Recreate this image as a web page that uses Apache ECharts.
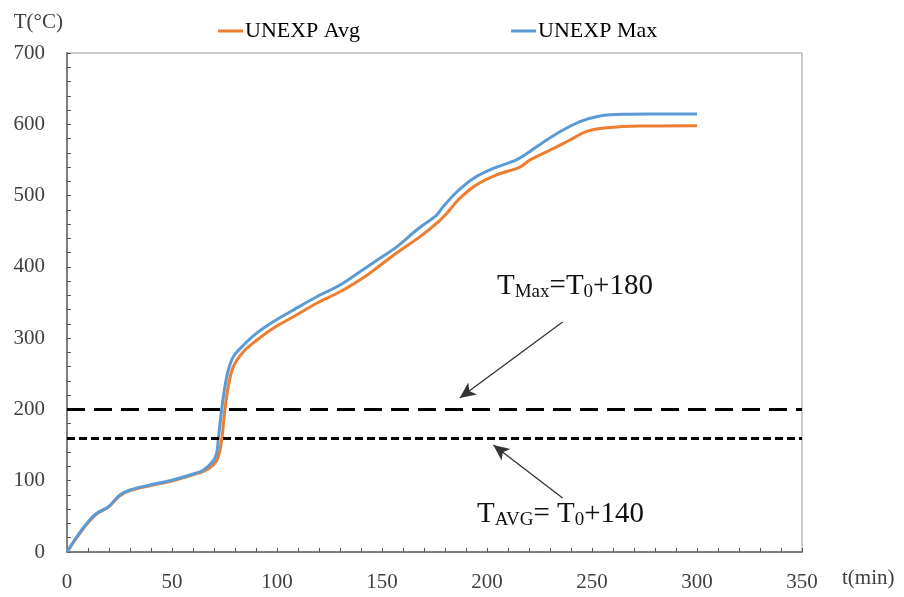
<!DOCTYPE html>
<html>
<head>
<meta charset="utf-8">
<title>UNEXP temperature</title>
<script src="https://cdn.jsdelivr.net/npm/echarts@6/dist/echarts.min.js"></script>
<style>
  html, body { margin: 0; padding: 0; background: #fff; }
  #chart { width: 904px; height: 597px; }
</style>
</head>
<body>
<div id="chart"></div>
<script>
// Unexposed-face temperature histories, [time (min), temperature (°C)]
const avgName = 'UNEXP Avg';
const maxName = 'UNEXP Max';

const avgData = [
  [0, 0], [4.6, 20], [9.4, 39], [14, 53], [19.7, 63], [25.2, 79], [30, 86],
  [39.5, 93], [49, 99], [58.6, 107], [65, 113], [69.7, 122], [72, 133],
  [73.7, 158], [75.2, 200], [76.8, 232], [79.2, 260], [84, 281], [90.3, 297],
  [98.2, 314], [107.8, 330], [118.9, 349], [130, 365], [142.7, 388], [149, 402],
  [158.6, 423], [168, 442], [176.8, 463], [180.8, 475], [187, 496], [195, 515],
  [204.6, 529], [215.7, 540], [220.5, 550], [231.6, 566], [239.5, 578],
  [247.5, 590], [257, 595], [273, 597.5], [300, 598]
];

const maxData = [
  [0, 0], [4.6, 21], [9.4, 40], [14, 54], [19.7, 63.5], [25.2, 80], [30, 87],
  [39.5, 94], [49, 100], [58.6, 108], [65, 115], [69.7, 128], [71.3, 139],
  [72, 157], [73.7, 201], [75.2, 232], [76.8, 255], [79.2, 274], [84, 290],
  [90.3, 307], [98.2, 323], [107.8, 339.5], [118.9, 358], [130, 374.5],
  [139.5, 393], [149, 412], [157, 428], [166.5, 451.7], [176, 472.7],
  [179, 484], [185.6, 505], [193.5, 524], [203, 538], [214, 550], [219, 559],
  [228.4, 578], [234.8, 589.6], [244.3, 603.6], [253.8, 611.6], [265, 614],
  [281, 614.4], [300, 614.5]
];

// Temperature criteria (°C)
const limitMax = 200;   // T0 + 180
const limitAvg = 160;   // T0 + 140

// Annotation arrows, [time, temperature] from tail to head
const arrowMax = [[236, 322.6], [187, 216]];
const arrowAvg = [[236, 75.7], [203, 150]];

// Axis ranges
const xMin = 0, xMax = 350, xStep = 50;
const yMin = 0, yMax = 700, yStep = 100;

const serif = '"Liberation Serif", "Times New Roman", serif';
const labelColor = '#404040';

const chart = echarts.init(document.getElementById('chart'), null, { renderer: 'canvas' });

chart.setOption({
  animation: false,
  backgroundColor: '#fff',
  grid: {
    left: 67, right: 102, top: 53, bottom: 45,
    show: true, borderColor: '#999', borderWidth: 1, containLabel: false
  },
  legend: {
    left: 213, top: 15,
    icon: 'rect', itemWidth: 25, itemHeight: 3, itemGap: 151,
    textStyle: { fontFamily: serif, fontSize: 22, color: '#000', padding: [0, 0, 0, -3] },
    data: [avgName, maxName]
  },
  xAxis: {
    type: 'value', min: xMin, max: xMax, interval: xStep,
    name: 't(min)', nameLocation: 'end', nameGap: 40,
    nameTextStyle: {
      fontFamily: serif, fontSize: 21, color: labelColor,
      align: 'left', verticalAlign: 'top', padding: [16, 0, 0, 0]
    },
    axisLine: { show: true, lineStyle: { color: '#7f7f7f', width: 2 } },
    axisTick: { show: true, inside: true, length: 4, lineStyle: { color: '#555' } },
    minorTick: { show: true, splitNumber: 5, length: 4, lineStyle: { color: '#555' } },
    splitLine: { show: false },
    axisLabel: { fontFamily: serif, fontSize: 21, color: labelColor, margin: 20 }
  },
  yAxis: {
    type: 'value', min: yMin, max: yMax, interval: yStep,
    name: 'T(°C)', nameLocation: 'end', nameGap: 31,
    nameTextStyle: {
      fontFamily: serif, fontSize: 21, color: labelColor,
      align: 'right', verticalAlign: 'middle', padding: [0, 4, 0, 0]
    },
    axisLine: { show: true, lineStyle: { color: '#7f7f7f', width: 2 } },
    axisTick: { show: true, inside: true, length: 4, lineStyle: { color: '#555' } },
    minorTick: { show: true, splitNumber: 5, length: 4, lineStyle: { color: '#555' } },
    splitLine: { show: false },
    axisLabel: { fontFamily: serif, fontSize: 21, color: labelColor, margin: 22 }
  },
  series: [
    {
      name: avgName, type: 'line', data: avgData,
      smooth: 0.35, symbol: 'none',
      lineStyle: { color: '#ED7D31', width: 3 },
      itemStyle: { color: '#ED7D31' },
      markLine: {
        silent: true, symbol: 'none', animation: false,
        label: { show: false },
        data: [
          { yAxis: limitMax, lineStyle: { color: '#000', width: 3, type: [18, 9] } },
          { yAxis: limitAvg, lineStyle: { color: '#000', width: 3, type: [8, 4] } }
        ]
      }
    },
    {
      name: maxName, type: 'line', data: maxData,
      smooth: 0.35, symbol: 'none',
      lineStyle: { color: '#5B9BD5', width: 3 },
      itemStyle: { color: '#5B9BD5' },
      markLine: {
        silent: true, animation: false,
        symbol: ['none', 'arrow'], symbolSize: [11, 16],
        label: { show: false },
        lineStyle: { color: '#333', width: 1.3, type: 'solid' },
        data: [
          [{ coord: arrowMax[0] }, { coord: arrowMax[1] }],
          [{ coord: arrowAvg[0] }, { coord: arrowAvg[1] }]
        ]
      }
    }
  ],
  graphic: [
    {
      type: 'text', left: 497, top: 272,
      style: {
        text: '{b|T}{s|Max}{b|=T}{s|0}{b|+180}',
        rich: {
          b: { fontFamily: serif, fontSize: 29, fill: '#111' },
          s: { fontFamily: serif, fontSize: 19, fill: '#111', padding: [12, 0, 0, 0] }
        }
      }
    },
    {
      type: 'text', left: 477, top: 500,
      style: {
        text: '{b|T}{s|AVG}{b|= T}{s|0}{b|+140}',
        rich: {
          b: { fontFamily: serif, fontSize: 29, fill: '#111' },
          s: { fontFamily: serif, fontSize: 19, fill: '#111', padding: [12, 0, 0, 0] }
        }
      }
    }
  ]
});
</script>
</body>
</html>
